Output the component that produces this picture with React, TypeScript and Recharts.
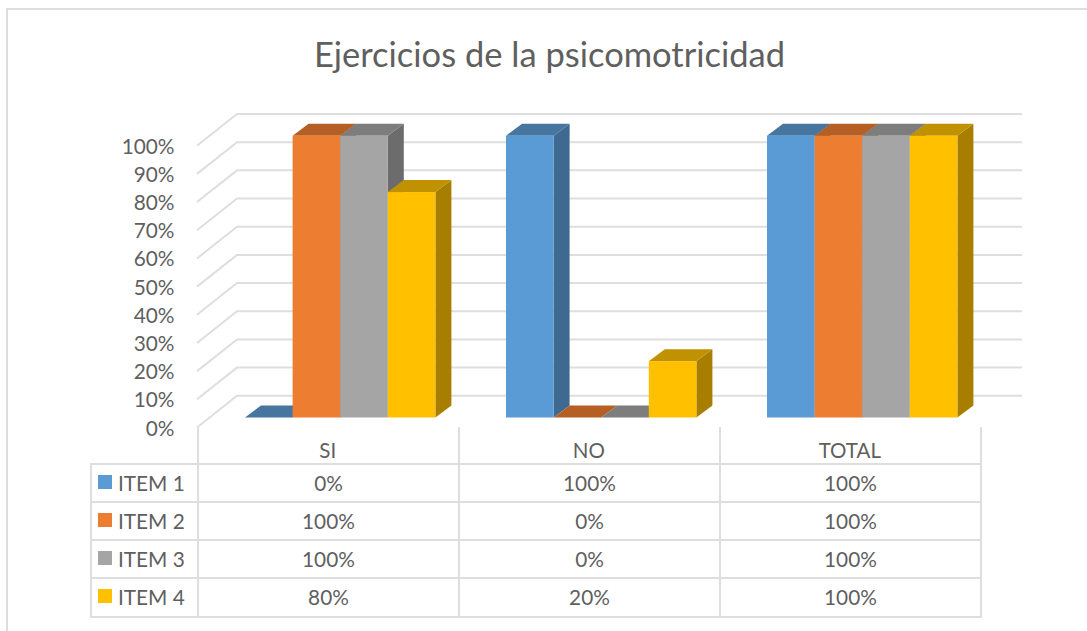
import { BarChart, Bar, XAxis, YAxis, CartesianGrid } from 'recharts'

const categories = ['SI', 'NO', 'TOTAL']
const item1 = [0, 100, 100]
const item2 = [100, 0, 100]
const item3 = [100, 0, 100]
const item4 = [80, 20, 100]
const yTicks = [0, 10, 20, 30, 40, 50, 60, 70, 80, 90, 100]

const seriesNames = ['ITEM 1', 'ITEM 2', 'ITEM 3', 'ITEM 4']
const seriesValues = [item1, item2, item3, item4]
const seriesColors = ['#5b9bd5', '#ed7d31', '#a5a5a5', '#ffc000']
const seriesTops = ['#4675a0', '#b65f25', '#7d7d7d', '#c09100']
const seriesSides = ['#3e6a92', '#a25420', '#6c6c6c', '#a87e00']

const data = categories.map((name, i) => ({
  name,
  item1: item1[i],
  item2: item2[i],
  item3: item3[i],
  item4: item4[i],
}))

const FONT = 'Lato, sans-serif'
const TEXT = '#5f5f5f'
const LINE = '#dedede'
const DEPTH_X = 16
const DEPTH_Y = 12

const makeBox = (idx: number) => (props: any) => {
  const { x, y, width, height } = props
  const r = x + width
  const b = y + height
  return (
    <g>
      <path
        d={`M${r} ${y} L${r + DEPTH_X} ${y - DEPTH_Y} L${r + DEPTH_X} ${b - DEPTH_Y} L${r} ${b} Z`}
        fill={seriesSides[idx]}
      />
      <path
        d={`M${x} ${y} L${x + DEPTH_X} ${y - DEPTH_Y} L${r + DEPTH_X} ${y - DEPTH_Y} L${r} ${y} Z`}
        fill={seriesTops[idx]}
      />
      <rect x={x} y={y} width={width} height={height} fill={seriesColors[idx]} />
    </g>
  )
}

// gridline with the floor/wall bend of the 3D plot
const gridLine = (props: any) => {
  const y = props.y1
  return (
    <path
      key={props.key ?? y}
      d={`M197 ${y + 10} L237 ${y - 21.7} L1022 ${y - 21.7}`}
      fill="none"
      stroke={LINE}
      strokeWidth={2}
    />
  )
}

const YTick = ({ y, payload }: any) => (
  <text x={174.5} y={y + 18} textAnchor="end" fontFamily={FONT} fontSize={20.8} fill={TEXT}>
    {payload.value}%
  </text>
)

const XTick = ({ x, payload }: any) => (
  <text x={x - 12.7} y={458} textAnchor="middle" fontFamily={FONT} fontSize={20.5} fill={TEXT}>
    {payload.value}
  </text>
)

const hLine = (left: number, top: number, width: number) => (
  <div style={{ position: 'absolute', left, top, width, height: 2, background: LINE }} />
)
const vLine = (left: number, top: number, height: number) => (
  <div style={{ position: 'absolute', left, top, width: 2, height, background: LINE }} />
)

const cell = (text: string, left: number, top: number, width: number) => (
  <div
    style={{
      position: 'absolute',
      left,
      top,
      width,
      height: 38,
      lineHeight: '38px',
      textAlign: 'center',
      fontFamily: FONT,
      fontSize: 20.8,
      color: TEXT,
    }}
  >
    {text}
  </div>
)

const colX = [197, 458, 719, 980]
const rowY = [463, 501, 539, 577, 615.5]

export default function App() {
  return (
    <div style={{ position: 'absolute', left: 0, top: 0, width: 1087, height: 631, overflow: 'hidden', background: '#fff' }}>
      {/* frame, right and bottom edges are cropped in the picture */}
      {hLine(6, 8, 1081)}
      {vLine(6, 8, 623)}

      <div
        style={{
          position: 'absolute',
          left: 0,
          top: 34,
          width: 1099,
          textAlign: 'center',
          fontFamily: FONT,
          fontSize: 34.5,
          lineHeight: '40px',
          color: TEXT,
        }}
      >
        Ejercicios de la psicomotricidad
      </div>

      <div style={{ position: 'absolute', left: 0, top: 0 }}>
        <BarChart
          width={1087}
          height={631}
          data={data}
          barGap={0}
          barSize={47.6}
          margin={{ top: 135.7, right: 94, bottom: 183.5, left: 150 }}
        >
          <CartesianGrid vertical={false} horizontal={gridLine} />
          <XAxis dataKey="name" axisLine={false} tickLine={false} height={30} tick={<XTick />} interval={0} />
          <YAxis
            domain={[0, 100]}
            ticks={yTicks}
            interval={0}
            width={60}
            axisLine={false}
            tickLine={false}
            tick={<YTick />}
          />
          {seriesNames.map((name, i) => (
            <Bar
              key={name}
              dataKey={`item${i + 1}`}
              name={name}
              fill={seriesColors[i]}
              shape={makeBox(i)}
              isAnimationActive={false}
            />
          ))}
        </BarChart>
      </div>

      {/* data table */}
      {colX.map((x) => vLine(x, 427, 190))}
      {vLine(90, rowY[0], 154)}
      {hLine(197, rowY[0], 785)}
      {rowY.slice(1).map((y) => hLine(90, y, 892))}
      {hLine(90, rowY[0], 107)}
      {seriesNames.map((name, r) => (
        <div key={name}>
          <div
            style={{
              position: 'absolute',
              left: 98,
              top: rowY[r] + 12,
              width: 14,
              height: 14,
              background: seriesColors[r],
            }}
          />
          <div
            style={{
              position: 'absolute',
              left: 118,
              top: rowY[r] + 1,
              height: 38,
              lineHeight: '38px',
              fontFamily: FONT,
              fontSize: 20.8,
              color: TEXT,
            }}
          >
            {name}
          </div>
          {categories.map((c, i) => (
            <div key={c}>{cell(`${seriesValues[r][i]}%`, colX[i] + 1, rowY[r] + 1, 261)}</div>
          ))}
        </div>
      ))}
    </div>
  )
}
